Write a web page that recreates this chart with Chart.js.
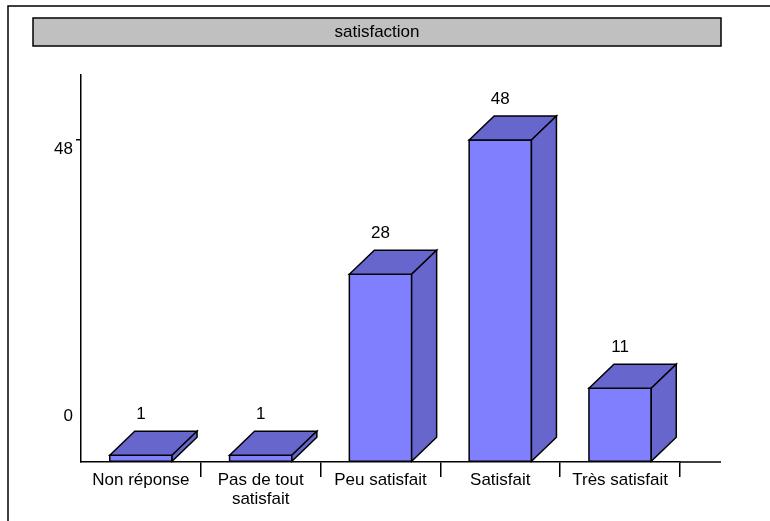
<!DOCTYPE html>
<html>
<head>
<meta charset="utf-8">
<script src="https://cdn.jsdelivr.net/npm/chart.js@4/dist/chart.umd.min.js"></script>
<style>
  html, body { margin: 0; padding: 0; background: #fff; }
</style>
</head>
<body>
<canvas id="satChart" width="770" height="521"></canvas>
<script>
const titleText = 'satisfaction';
const categories = ['Non réponse', ['Pas de tout', 'satisfait'], 'Peu satisfait', 'Satisfait', 'Très satisfait'];
const counts = [1, 1, 28, 48, 11];
const yTicks = [0, 48];

const FONT = '"Liberation Sans", Arial, sans-serif';
const FSIZE = 17;
const DX = 25, DY = 24; // 3d depth

const bars3d = {
  id: 'bars3d',
  beforeDraw(chart) {
    const ctx = chart.ctx;
    ctx.save();
    // outer frame (top + left only)
    ctx.strokeStyle = '#000';
    ctx.lineWidth = 1.5;
    ctx.beginPath();
    ctx.moveTo(8, 521);
    ctx.lineTo(8, 6);
    ctx.lineTo(770, 6);
    ctx.stroke();
    // title box
    ctx.fillStyle = '#c0c0c0';
    ctx.fillRect(33, 18, 688, 28);
    ctx.strokeRect(33, 18, 688, 28);
    ctx.fillStyle = '#000';
    ctx.font = FSIZE + 'px ' + FONT;
    ctx.textAlign = 'center';
    ctx.textBaseline = 'middle';
    ctx.fillText(titleText, 377, 32);
    ctx.restore();
  },
  afterDatasetsDraw(chart) {
    const ctx = chart.ctx;
    const meta = chart.getDatasetMeta(0);
    const yScale = chart.scales.y;
    const area = chart.chartArea;
    ctx.save();
    ctx.lineWidth = 1.5;
    ctx.strokeStyle = '#000';
    ctx.lineJoin = 'miter';

    // x axis extends under the depth
    ctx.beginPath();
    ctx.moveTo(area.right, area.bottom);
    ctx.lineTo(area.right + 41, area.bottom);
    ctx.stroke();

    meta.data.forEach((bar, i) => {
      const p = bar.getProps(['x', 'y', 'base', 'width'], true);
      const l = p.x - p.width / 2, r = p.x + p.width / 2;
      const top = p.y, base = p.base;

      // front
      ctx.fillStyle = '#8080ff';
      ctx.beginPath();
      ctx.rect(l, top, r - l, base - top);
      ctx.fill();
      ctx.stroke();

      // top face
      ctx.fillStyle = '#6666cc';
      ctx.beginPath();
      ctx.moveTo(l, top);
      ctx.lineTo(l + DX, top - DY);
      ctx.lineTo(r + DX, top - DY);
      ctx.lineTo(r, top);
      ctx.closePath();
      ctx.fill();
      ctx.stroke();

      // side face
      ctx.beginPath();
      ctx.moveTo(r, top);
      ctx.lineTo(r + DX, top - DY);
      ctx.lineTo(r + DX, base - DY);
      ctx.lineTo(r, base);
      ctx.closePath();
      ctx.fill();
      ctx.stroke();

      // value label
      ctx.fillStyle = '#000';
      ctx.font = FSIZE + 'px ' + FONT;
      ctx.textAlign = 'center';
      ctx.textBaseline = 'middle';
      ctx.fillText(String(counts[i]), p.x, top - DY - 17);
    });

    // the "0" label sits above the baseline in the original
    ctx.font = FSIZE + 'px ' + FONT;
    ctx.textAlign = 'right';
    ctx.textBaseline = 'middle';
    ctx.fillStyle = '#000';
    ctx.fillText('0', 73, yScale.getPixelForValue(0) - 46);
    ctx.restore();
  }
};

new Chart(document.getElementById('satChart'), {
  type: 'bar',
  data: {
    labels: categories,
    datasets: [{
      data: counts,
      backgroundColor: 'rgba(0,0,0,0)',
      borderWidth: 0,
      categoryPercentage: 1,
      barPercentage: 0.52
    }]
  },
  options: {
    responsive: false,
    animation: false,
    events: [],
    layout: { padding: { top: 75, right: 90, left: 0, bottom: 0 } },
    plugins: {
      legend: { display: false },
      tooltip: { enabled: false },
      title: { display: false }
    },
    scales: {
      x: {
        afterFit: (s) => { s.height = 59; },
        grid: {
          offset: true,
          drawOnChartArea: false,
          drawTicks: true,
          tickLength: 15,
          lineWidth: 1.5,
          color: (c) => (c.index === 0 ? 'rgba(0,0,0,0)' : '#000')
        },
        border: { display: true, color: '#000', width: 1.5 },
        ticks: {
          color: '#000',
          padding: -6,
          maxRotation: 0,
          autoSkip: false,
          font: { family: FONT, size: FSIZE, lineHeight: 1.12 }
        }
      },
      y: {
        min: 0,
        max: 57.7,
        afterFit: (s) => { s.width = 81; },
        afterBuildTicks: (s) => { s.ticks = yTicks.map(v => ({ value: v })); },
        grid: {
          drawOnChartArea: false,
          drawTicks: true,
          tickLength: 5,
          lineWidth: 1.5,
          color: (c) => (c.tick && c.tick.value === 0 ? 'rgba(0,0,0,0)' : '#000')
        },
        border: { display: true, color: '#000', width: 1.5 },
        ticks: {
          color: '#000',
          padding: 3,
          labelOffset: 9,
          font: { family: FONT, size: FSIZE },
          callback: (v) => (v === 0 ? '' : v)
        }
      }
    }
  },
  plugins: [bars3d]
});
</script>
</body>
</html>
